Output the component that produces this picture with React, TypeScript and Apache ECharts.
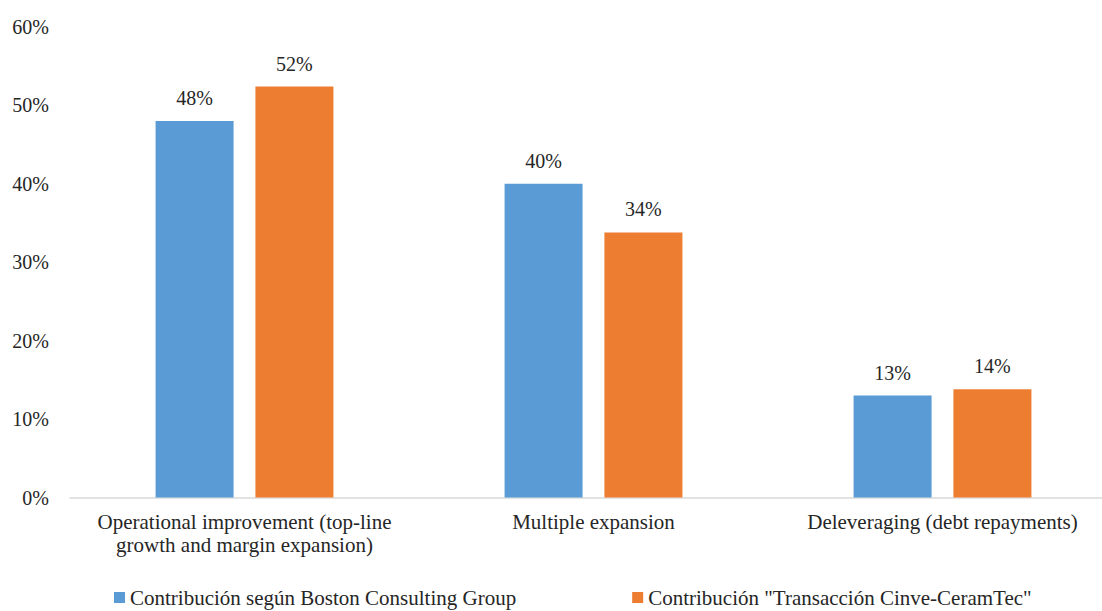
import React, { useEffect, useRef } from "react";
import * as echarts from "echarts";

const categories = [
  "Operational improvement (top-line\ngrowth and margin expansion)",
  "Multiple expansion",
  "Deleveraging (debt repayments)",
];
const bcgValues = [48.0, 40.0, 13.0];
const cinveValues = [52.4, 33.8, 13.8];
const seriesNames = [
  "Contribución según Boston Consulting Group",
  'Contribución "Transacción Cinve-CeramTec"',
];
const yTicks = [0, 10, 20, 30, 40, 50, 60];

const FONT = "Liberation Serif";
const TEXT = "#262626";

export default function App() {
  const ref = useRef<HTMLDivElement>(null);
  useEffect(() => {
    if (!ref.current) return;
    const chart = echarts.init(ref.current, undefined, { renderer: "svg" });
    const label = {
      show: true,
      position: "top",
      distance: 13,
      fontFamily: FONT,
      fontSize: 20,
      color: TEXT,
      formatter: (p: any) => Math.round(p.value) + "%",
    };
    chart.setOption({
      animation: false,
      textStyle: { fontFamily: FONT },
      grid: { left: 70, width: 1047, top: 27, bottom: 113.5, containLabel: false, outerBoundsMode: "none" },
      legend: {
        left: 109,
        top: 582,
        itemWidth: 11,
        itemHeight: 11,
        itemGap: 116,
        icon: "rect",
        textStyle: { fontFamily: FONT, fontSize: 21, lineHeight: 21, color: TEXT },
        data: seriesNames,
      },
      xAxis: {
        type: "category",
        data: categories,
        axisLine: { lineStyle: { color: "#d9d9d9", width: 1.5 } },
        axisTick: { show: false },
        axisLabel: {
          fontFamily: FONT,
          fontSize: 21,
          color: TEXT,
          margin: 13,
          lineHeight: 23,
          interval: 0,
        },
      },
      yAxis: {
        type: "value",
        min: yTicks[0],
        max: yTicks[yTicks.length - 1],
        interval: 10,
        splitLine: { show: false },
        axisLine: { show: false },
        axisTick: { show: false },
        axisLabel: {
          fontFamily: FONT,
          fontSize: 20,
          color: TEXT,
          margin: 21,
          formatter: (v: number) => v + "%",
        },
      },
      series: [
        {
          name: seriesNames[0],
          type: "bar",
          data: bcgValues,
          barWidth: 78,
          barGap: "28%",
          itemStyle: { color: "#5B9BD5" },
          label,
        },
        {
          name: seriesNames[1],
          type: "bar",
          data: cinveValues,
          barWidth: 78,
          barGap: "28%",
          itemStyle: { color: "#ED7D31" },
          label,
        },
      ],
    });
    return () => chart.dispose();
  }, []);
  return (
    <div
      ref={ref}
      style={{ position: "fixed", left: 0, top: 0, width: 1102, height: 611, background: "#fff" }}
    />
  );
}
